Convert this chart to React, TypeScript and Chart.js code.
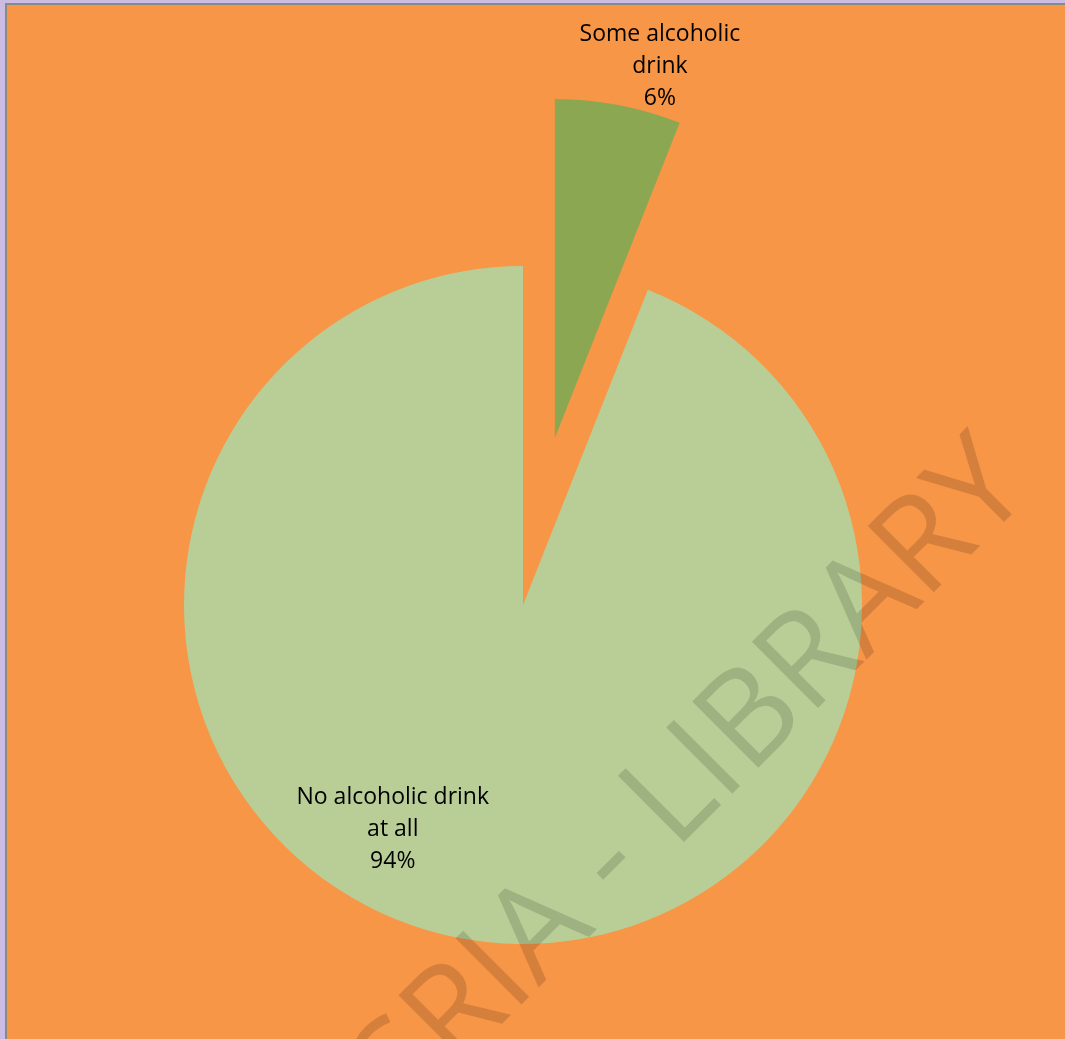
import React, { useEffect, useRef } from "react";
import { Chart, registerables } from "chart.js";

Chart.register(...registerables);

// ---- data ----
const categories = ["Some alcoholic drink", "No alcoholic drink at all"];
const labelLines = [
  ["Some alcoholic", "drink"],
  ["No alcoholic drink", "at all"],
];
const values = [6, 94];
const sliceColors = ["#8BA752", "#B9CE97"];
const explodeOffsets = [170, 0];

const ORANGE = "#F79646";
const PURPLE = "#CCBCE3";
const GRAY = "#878B86";

const explodePlugin = {
  id: "explode",
  beforeDatasetsDraw(chart: any, _a: any, opts: any) {
    const meta = chart.getDatasetMeta(0);
    const { chartArea } = chart;
    const cx = (chartArea.left + chartArea.right) / 2;
    const cy = (chartArea.top + chartArea.bottom) / 2;
    meta.data.forEach((arc: any, i: number) => {
      const d = (opts.offsets && opts.offsets[i]) || 0;
      const mid = (arc.startAngle + arc.endAngle) / 2;
      arc.x = cx + Math.cos(mid) * d;
      arc.y = cy + Math.sin(mid) * d;
    });
  },
};

const sliceLabelPlugin = {
  id: "sliceLabels",
  afterDatasetsDraw(chart: any, _a: any, opts: any) {
    const meta = chart.getDatasetMeta(0);
    const data = chart.data.datasets[0].data as number[];
    const total = data.reduce((a, b) => a + b, 0);
    const ctx = chart.ctx;
    ctx.save();
    ctx.font = `${opts.size}px ${opts.family}`;
    ctx.fillStyle = opts.color;
    ctx.textAlign = "center";
    ctx.textBaseline = "middle";
    meta.data.forEach((arc: any, i: number) => {
      const place = opts.placement[i];
      const a = ((place.angle - 90) * Math.PI) / 180;
      const r = arc.outerRadius * place.radius;
      const x = arc.x + Math.cos(a) * r;
      const y = arc.y + Math.sin(a) * r;
      const lines = [...labelLines[i], `${Math.round((data[i] / total) * 100)}%`];
      const n = lines.length;
      lines.forEach((t, k) => {
        ctx.fillText(t, x, y + (k - (n - 1) / 2) * opts.lineHeight);
      });
    });
    ctx.restore();
  },
};

const watermarkPlugin = {
  id: "watermark",
  afterDraw(chart: any, _a: any, opts: any) {
    const ctx = chart.ctx;
    ctx.save();
    ctx.translate(opts.x, opts.y);
    ctx.rotate((opts.angle * Math.PI) / 180);
    ctx.font = `${opts.size}px ${opts.family}`;
    ctx.fillStyle = opts.color;
    ctx.textAlign = "left";
    ctx.textBaseline = "alphabetic";
    const pre = ctx.measureText(opts.before + " ").width;
    const hy = ctx.measureText("-").width;
    const startX = -(pre + hy / 2);
    ctx.fillText(opts.before + " - " + opts.after, startX, opts.size * 0.27);
    ctx.restore();
  },
};

export default function App() {
  const ref = useRef<HTMLCanvasElement | null>(null);

  useEffect(() => {
    if (!ref.current) return;
    const chart = new Chart(ref.current, {
      type: "pie",
      data: {
        labels: categories,
        datasets: [
          {
            data: values,
            backgroundColor: sliceColors,
            borderWidth: 0,
          },
        ],
      },
      options: {
        responsive: false,
        animation: false,
        devicePixelRatio: 1,
        radius: 339,
        layout: { padding: { left: 0, right: 26, top: 166, bottom: 0 } },
        plugins: {
          legend: { display: false },
          tooltip: { enabled: false },
          explode: { offsets: explodeOffsets },
          sliceLabels: {
            size: 23,
            family: "'Open Sans', sans-serif",
            color: "#000000",
            lineHeight: 32,
            placement: [
              { angle: 15.8, radius: 1.138 },
              { angle: 210.1, radius: 0.766 },
            ],
          },
          watermark: {
            before: "CODESRIA",
            after: "LIBRARY",
            x: 604,
            y: 860,
            angle: -45,
            size: 131,
            family: "'Open Sans', sans-serif",
            color: "rgba(0,0,0,0.14)",
          },
        } as any,
      },
      plugins: [explodePlugin, sliceLabelPlugin, watermarkPlugin],
    });
    return () => chart.destroy();
  }, []);

  return (
    <div
      style={{
        position: "absolute",
        left: 0,
        top: 0,
        width: 1065,
        height: 1039,
        background: PURPLE,
        overflow: "hidden",
      }}
    >
      <div
        style={{
          position: "absolute",
          left: 5,
          top: 3,
          width: 1060,
          height: 1036,
          boxSizing: "border-box",
          borderLeft: `2px solid ${GRAY}`,
          borderTop: `2px solid ${GRAY}`,
          background: ORANGE,
        }}
      >
        <canvas
          ref={ref}
          width={1058}
          height={1034}
          style={{ display: "block", width: 1058, height: 1034 }}
        />
      </div>
    </div>
  );
}
